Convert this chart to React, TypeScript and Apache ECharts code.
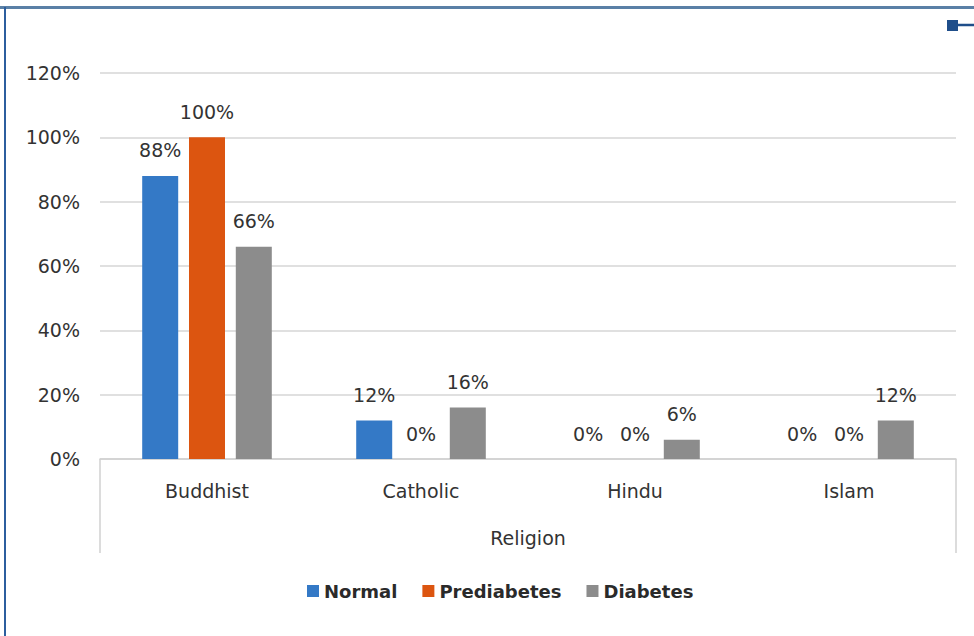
import React, { useEffect, useRef } from "react";
import * as echarts from "echarts";

const categories = ["Buddhist", "Catholic", "Hindu", "Islam"];
const normal = [88, 12, 0, 0];
const prediabetes = [100, 0, 0, 0];
const diabetes = [66, 16, 6, 12];
const seriesNames = ["Normal", "Prediabetes", "Diabetes"];
const yTicks = [0, 20, 40, 60, 80, 100, 120];

const FONT = "'DejaVu Sans', sans-serif";
const TEXT = "#333333";
const FS = 19;

export default function App() {
  const ref = useRef<HTMLDivElement>(null);

  useEffect(() => {
    if (!ref.current) return;
    const chart = echarts.init(ref.current, undefined, { renderer: "svg" });
    const colors = ["#3479c6", "#dc5510", "#8c8c8c"];
    const values = [normal, prediabetes, diabetes];

    chart.setOption({
      animation: false,
      backgroundColor: "#ffffff",
      textStyle: { fontFamily: FONT },
      grid: { left: 100, right: 18, top: 73, bottom: 177 },
      legend: {
        data: seriesNames,
        top: 577,
        left: 302,
        itemWidth: 12,
        itemHeight: 12,
        itemGap: 25,
        icon: "rect",
        textStyle: {
          fontSize: 18,
          fontWeight: "bold",
          color: "#2a2a2a",
          fontFamily: FONT,
          padding: [0, 0, 0, 0],
        },
      },
      xAxis: {
        type: "category",
        data: categories,
        name: "Religion",
        nameLocation: "middle",
        nameGap: 69,
        nameTextStyle: { fontSize: FS, color: TEXT, fontFamily: FONT },
        axisLine: { lineStyle: { color: "#d0d0d0", width: 1.5 } },
        axisTick: { show: false },
        axisLabel: { fontSize: FS, color: TEXT, margin: 22, fontFamily: FONT },
      },
      yAxis: {
        type: "value",
        min: 0,
        max: yTicks[yTicks.length - 1],
        interval: 20,
        axisLine: { show: false },
        axisTick: { show: false },
        axisLabel: {
          fontSize: FS,
          color: TEXT,
          margin: 20,
          fontFamily: FONT,
          formatter: (v: number) => `${v}%`,
        },
        splitLine: { lineStyle: { color: "#d6d6d6", width: 1.5 } },
      },
      series: seriesNames.map((name, i) => ({
        name,
        type: "bar",
        data: values[i],
        barWidth: 36,
        barGap: "30%",
        itemStyle: { color: colors[i] },
        label: {
          show: true,
          position: "top",
          distance: 16,
          fontSize: FS,
          color: TEXT,
          fontFamily: FONT,
          formatter: (p: any) => `${p.value}%`,
        },
      })),
      graphic: [
        // frame edges
        { type: "line", shape: { x1: 0, y1: 7.5, x2: 974, y2: 7.5 }, style: { stroke: "#5a80a6", lineWidth: 3 } },
        { type: "line", shape: { x1: 5, y1: 7, x2: 5, y2: 636 }, style: { stroke: "#2c5e9e", lineWidth: 2 } },
        // corner marker
        { type: "rect", shape: { x: 947, y: 20, width: 11, height: 11 }, style: { fill: "#1f4e8a" } },
        { type: "line", shape: { x1: 958, y1: 25, x2: 974, y2: 25 }, style: { stroke: "#1f4e8a", lineWidth: 2.5 } },
        // category block borders
        { type: "line", shape: { x1: 100, y1: 459, x2: 100, y2: 553 }, style: { stroke: "#d0d0d0", lineWidth: 1.5 } },
        { type: "line", shape: { x1: 956, y1: 459, x2: 956, y2: 553 }, style: { stroke: "#d0d0d0", lineWidth: 1.5 } },
      ],
    });

    return () => chart.dispose();
  }, []);

  return (
    <div
      ref={ref}
      style={{ position: "fixed", left: 0, top: 0, width: 974, height: 636 }}
    />
  );
}
